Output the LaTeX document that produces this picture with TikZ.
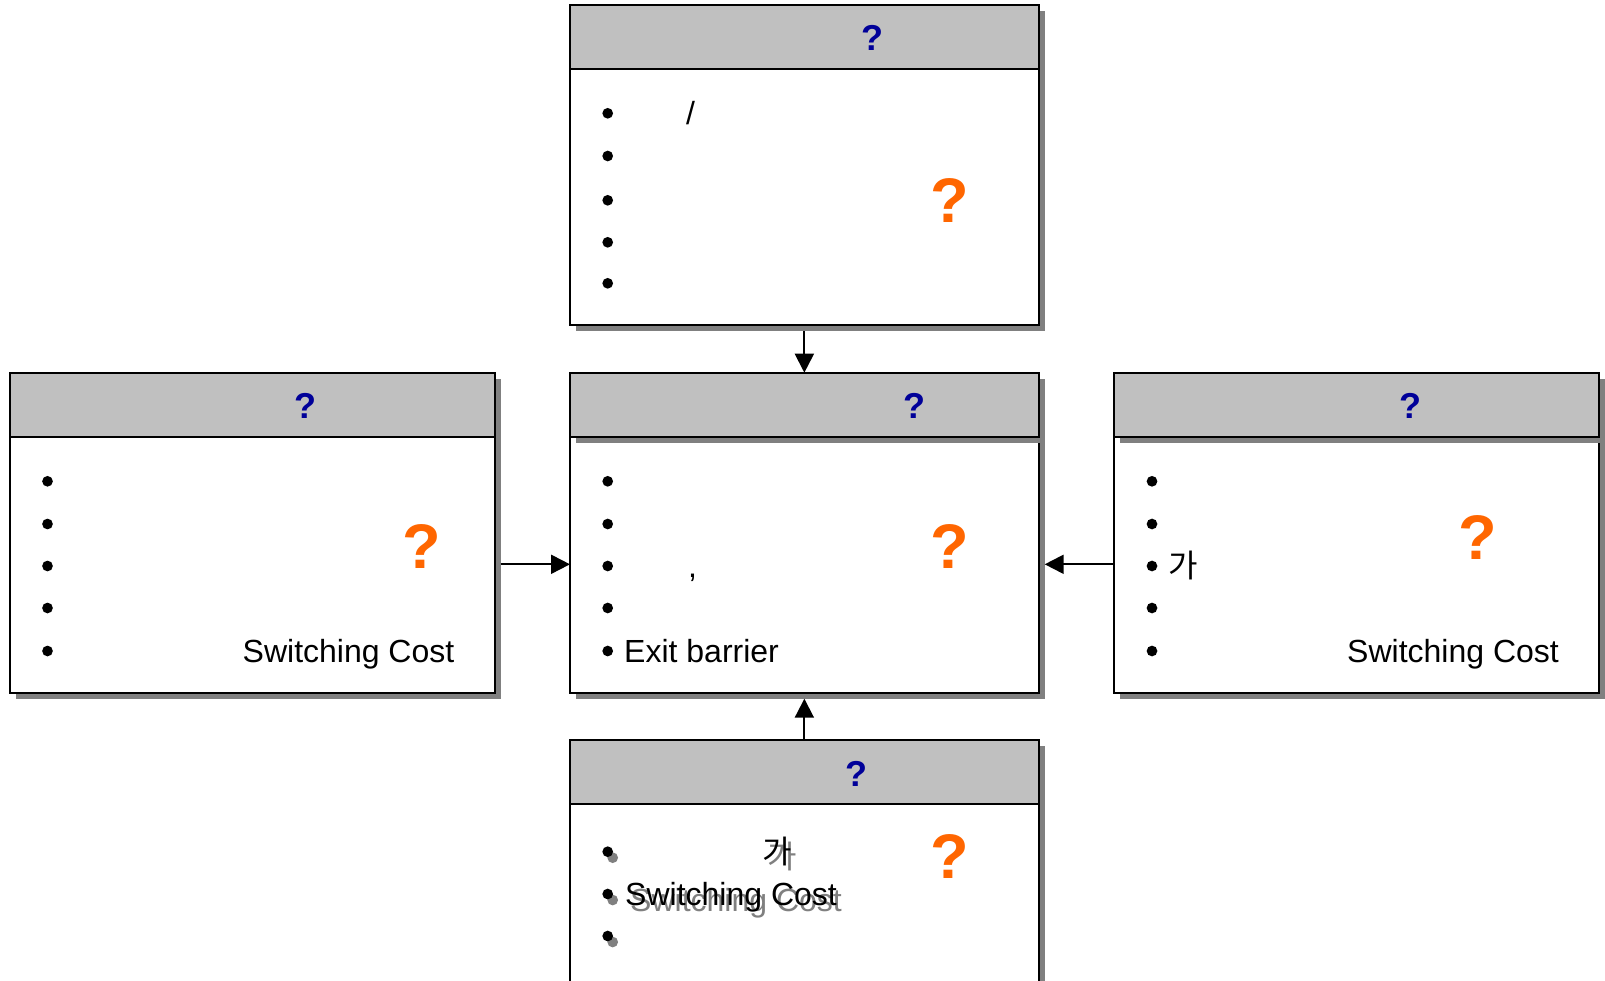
\documentclass[tikz,border=0pt]{standalone}
\usepackage{fontspec}
\setmainfont{Liberation Sans}
\newfontfamily\krfont{Noto Sans CJK KR}
\usetikzlibrary{arrows.meta,shadows}
\definecolor{hdrblue}{RGB}{0,0,153}
\definecolor{qorange}{RGB}{255,102,0}
\definecolor{hdrgray}{RGB}{192,192,192}
\definecolor{shgray}{RGB}{128,128,128}
\begin{document}
\begin{tikzpicture}[x=1pt,y=-1pt,
  boxbody/.style={draw=black,line width=2pt,fill=white,inner sep=0pt,outer sep=0pt,minimum height=320pt},
  boxhead/.style={draw=black,line width=2pt,fill=hdrgray,inner sep=0pt,outer sep=0pt,minimum height=64pt},
  shadowed/.style={drop shadow={shadow xshift=6pt,shadow yshift=-6pt,fill=shgray,opacity=1}},
  txt/.style={anchor=base west,inner sep=0pt,font=\fontsize{32}{38}\selectfont},
  dot/.style={circle,fill=black,inner sep=0pt,minimum size=10.7pt},
  shtxt/.style={txt,text=shgray},
  shdot/.style={dot,fill=shgray},
  oq/.style={anchor=base,inner sep=0pt,text=qorange,font=\fontsize{63}{70}\selectfont\bfseries},
  bq/.style={anchor=base,inner sep=0pt,text=hdrblue,font=\fontsize{36}{40}\selectfont\bfseries},
  arr/.style={line width=2pt,-{Triangle[length=19pt,width=19pt]}}]
\useasboundingbox (0,0) rectangle (1605,981);
\clip (0,0) rectangle (1605,981);

% ---------- top box ----------
\node[boxbody,shadowed,minimum width=468.7pt] (topB) at (804.35,165) {};
\node[boxhead,minimum width=468.7pt] (topH) at (804.35,37) {};
\node[bq] (topQ) at (872.7,50.7) {?};
\node[oq] (topO) at (949.3,222.7) {?};
\node[dot] (tb1) at (607.7,113.3) {};
\node[dot] (tb2) at (607.7,156) {};
\node[dot] (tb3) at (607.7,200.3) {};
\node[dot] (tb4) at (607.7,242.3) {};
\node[dot] (tb5) at (607.7,283.3) {};
\node[txt] (tt1) at (686,125) {/};

% ---------- middle box ----------
\node[boxbody,shadowed,minimum width=468.7pt] (midB) at (804.35,532.7) {};
\node[boxhead,shadowed,minimum width=468.7pt] (midH) at (804.35,404.7) {};
\node[bq] (midQ) at (914,418.7) {?};
\node[oq] (midO) at (949.3,568.3) {?};
\node[dot] (mb1) at (607.7,481.3) {};
\node[dot] (mb2) at (607.7,524) {};
\node[dot] (mb3) at (607.7,566) {};
\node[dot] (mb4) at (607.7,608) {};
\node[dot] (mb5) at (607.7,651) {};
\node[txt] (mt3) at (688,577.7) {,};
\node[txt] (mt5) at (624,662.7) {Exit barrier};

% ---------- left box ----------
\node[boxbody,shadowed,minimum width=484.5pt] (lefB) at (252.25,532.7) {};
\node[boxhead,minimum width=484.5pt] (lefH) at (252.25,404.7) {};
\node[bq] (lefQ) at (305.4,418.7) {?};
\node[oq] (lefO) at (421.4,568.3) {?};
\node[dot] (lb1) at (47.5,481.3) {};
\node[dot] (lb2) at (47.5,524) {};
\node[dot] (lb3) at (47.5,566) {};
\node[dot] (lb4) at (47.5,608) {};
\node[dot] (lb5) at (47.5,651) {};
\node[txt] (lt5) at (242.5,662.7) {Switching Cost};

% ---------- right box ----------
\node[boxbody,shadowed,minimum width=484.3pt] (rigB) at (1356.55,532.7) {};
\node[boxhead,shadowed,minimum width=484.3pt] (rigH) at (1356.55,404.7) {};
\node[bq] (rigQ) at (1410,418.7) {?};
\node[oq] (rigO) at (1477.6,559) {?};
\node[dot] (rb1) at (1152,481.3) {};
\node[dot] (rb2) at (1152,524) {};
\node[dot] (rb3) at (1152,566) {};
\node[dot] (rb4) at (1152,608) {};
\node[dot] (rb5) at (1152,651) {};
\node[txt,font=\fontsize{32}{38}\selectfont\krfont] (rt3) at (1168,577.7) {가};
\node[txt] (rt5) at (1347,662.7) {Switching Cost};

% ---------- bottom box ----------
\node[boxbody,shadowed,minimum width=468.7pt] (botB) at (804.35,900) {};
\node[boxhead,minimum width=468.7pt] (botH) at (804.35,772.2) {};
\node[bq] (botQ) at (856,786.7) {?};
\node[oq] (botO) at (949.3,878.3) {?};
\node[shdot] (bs1) at (612.7,857.7) {};
\node[shdot] (bs2) at (612.7,900) {};
\node[shdot] (bs3) at (612.7,942) {};
\node[shtxt,font=\fontsize{32}{38}\selectfont\krfont] (bst1) at (767,868.4) {가};
\node[shtxt] (bst2) at (630,911.7) {Switching Cost};
\node[dot] (bb1) at (607.7,851.7) {};
\node[dot] (bb2) at (607.7,894) {};
\node[dot] (bb3) at (607.7,936) {};
\node[txt,font=\fontsize{32}{38}\selectfont\krfont] (bt1) at (762,863.4) {가};
\node[txt] (bt2) at (625,905.7) {Switching Cost};

% ---------- connectors ----------
\draw[arr] ([yshift=-6pt]topB.south) -- (midB.north);
\draw[arr] (botH.north) -- ([yshift=-6pt]midB.south);
\draw[arr] ([xshift=6pt,yshift=-31.6pt]lefB.east) -- ([yshift=-31.6pt]midB.west);
\draw[arr] ([yshift=-31.6pt]rigB.west) -- ([xshift=6pt,yshift=-31.6pt]midB.east);
\end{tikzpicture}
\end{document}
